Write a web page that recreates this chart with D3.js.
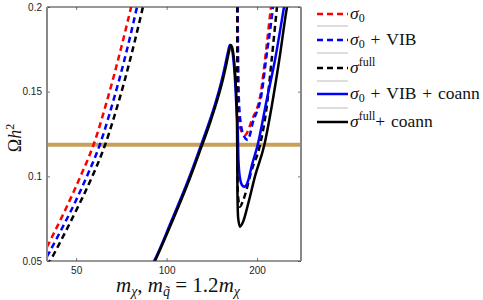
<!DOCTYPE html>
<meta charset="utf-8">
<style>
    body { margin: 0; background: #fff; }
    .tick text { font: 10px "Liberation Sans", Arial, sans-serif; fill: #222; }
    .tex { font-family: "Liberation Serif", "DejaVu Serif", serif; fill: #111; }
</style>
<body>
<script src="https://cdn.jsdelivr.net/npm/d3@7"></script>
<script>
// chart values (m_chi in GeV, Omega h^2)
var xTicks = [50, 100, 200];
var yTicks = [0.05, 0.1, 0.15, 0.2];
var omegaObs = 0.1187;

var sig0LeftMass = [40, 46.0, 51.7, 57.1, 64.6, 70.7, 76.2, 79];
var sig0LeftOmega = [0.0583, 0.0801, 0.1, 0.1185, 0.15, 0.1764, 0.2, 0.212];
var sig0RightMass = [171.8, 173.4, 176.8, 182.3, 192.3, 206.1, 212.5, 222.5, 226];
var sig0RightOmega = [0.23, 0.1344, 0.1274, 0.1244, 0.1333, 0.15, 0.1687, 0.2, 0.21];

var vibLeftMass = [40, 48.2, 54.3, 59.9, 67.8, 74.2, 79.7, 82.5];
var vibLeftOmega = [0.0525, 0.0801, 0.1, 0.1185, 0.15, 0.1764, 0.2, 0.212];
var vibRightMass = [171.8, 173.2, 174.0, 176.8, 180.9, 186.1, 193.8, 207.6, 214.1, 225.9, 229];
var vibRightOmega = [0.23, 0.16, 0.1451, 0.1303, 0.1238, 0.1215, 0.1321, 0.15, 0.1687, 0.2, 0.21];

var fullLeftMass = [40, 40.9, 50.1, 56.6, 62.4, 70.8, 77.5, 83.4, 86.3];
var fullLeftOmega = [0.0478, 0.05, 0.0801, 0.1, 0.1185, 0.15, 0.1764, 0.2, 0.212];
var fullRightMass = [171.8, 171.9, 172.7, 175.4, 179.9, 191.9, 204.5, 215.3, 223.6, 232.9, 236];
var fullRightOmega = [0.23, 0.1156, 0.089, 0.0821, 0.086, 0.1037, 0.1185, 0.1411, 0.1687, 0.2, 0.21];

var vibCoannMass = [89.5, 90.8, 103.4, 118.7, 128.1, 138.3, 146.0, 151.7, 156.4, 160.0, 162.4, 164.4, 166.9, 169.5, 171.2,
    172.5, 173.4, 175.4, 178.1, 181.3, 184.4, 187.0, 192.3, 200.9, 215.3, 229.4, 245.8, 249];
var vibCoannOmega = [0.048, 0.05, 0.073, 0.099, 0.115, 0.1315, 0.1445, 0.1551, 0.1652, 0.1734, 0.1776, 0.1764, 0.1687, 0.1522, 0.1362,
    0.1274, 0.1096, 0.0990, 0.0949, 0.0939, 0.0949, 0.0978, 0.1067, 0.1185, 0.1451, 0.1687, 0.2, 0.206];

var fullCoannMass = [90.4, 91.5, 104.2, 119.6, 129.1, 139.4, 147.1, 152.9, 157.6, 161.2, 163.4, 165.0, 167.6, 170.1, 171.4,
    171.8, 172.1, 173.0, 175.4, 179.5, 187.0, 196.8, 211.4, 223.6, 237.0, 251.5, 255];
var fullCoannOmega = [0.048, 0.05, 0.073, 0.099, 0.115, 0.1315, 0.1445, 0.1551, 0.1652, 0.1734, 0.1776, 0.1764, 0.1687, 0.1522, 0.1362,
    0.1156, 0.089, 0.0754, 0.0703, 0.073, 0.0841, 0.1, 0.1185, 0.1411, 0.1687, 0.2, 0.206];

var width = 483, height = 300;
var pLeft = 47, pRight = 301, pTop = 7, pBottom = 261;

var svg = d3.select("body").append("svg")
    .attr("width", width)
    .attr("height", height);

var x = d3.scaleLog().domain([40, 280]).range([pLeft, pRight]);
var y = d3.scaleLinear().domain([0.05, 0.2]).range([pBottom, pTop]);

svg.append("clipPath").attr("id", "plot")
    .append("rect")
    .attr("x", pLeft).attr("y", pTop)
    .attr("width", pRight - pLeft).attr("height", pBottom - pTop);

function pairs(ms, os) {
    return ms.map(function (m, i) { return [m, os[i]]; });
}

var smooth = d3.line()
    .x(function (d) { return x(d[0]); })
    .y(function (d) { return y(d[1]); })
    .curve(d3.curveCatmullRom.alpha(0.5));
var steep = d3.line()
    .x(function (d) { return x(d[0]); })
    .y(function (d) { return y(d[1]); })
    .curve(d3.curveMonotoneX);

var curves = svg.append("g").attr("clip-path", "url(#plot)");

// observed relic density band
curves.append("line")
    .attr("x1", pLeft).attr("x2", pRight)
    .attr("y1", y(omegaObs)).attr("y2", y(omegaObs))
    .attr("stroke", "#c8a05a")
    .attr("stroke-width", 4);

var series = [
    { m: sig0LeftMass, o: sig0LeftOmega, color: "#ff0000", dash: "6,4", gen: smooth },
    { m: sig0RightMass, o: sig0RightOmega, color: "#ff0000", dash: "6,4", gen: steep },
    { m: vibLeftMass, o: vibLeftOmega, color: "#0000ff", dash: "6,4", gen: smooth },
    { m: vibRightMass, o: vibRightOmega, color: "#0000ff", dash: "6,4", gen: steep },
    { m: fullLeftMass, o: fullLeftOmega, color: "#000", dash: "6,4", gen: smooth },
    { m: fullRightMass, o: fullRightOmega, color: "#000", dash: "6,4", gen: steep },
    { m: vibCoannMass, o: vibCoannOmega, color: "#0000ff", dash: null, gen: steep },
    { m: fullCoannMass, o: fullCoannOmega, color: "#000", dash: null, gen: steep }
];

series.forEach(function (s) {
    curves.append("path")
        .datum(pairs(s.m, s.o))
        .attr("d", s.gen)
        .attr("fill", "none")
        .attr("stroke", s.color)
        .attr("stroke-width", 2.5)
        .attr("stroke-dasharray", s.dash);
});

// axes, ticks pointing inward
function styleAxis(g, keepText) {
    g.select(".domain").remove();
    g.selectAll(".tick line").attr("stroke", "#777");
    if (!keepText) g.selectAll(".tick text").remove();
}

svg.append("g").attr("transform", "translate(0," + pBottom + ")")
    .call(d3.axisBottom(x).tickValues(xTicks).tickFormat(d3.format("d")).tickSize(-3).tickPadding(6))
    .call(styleAxis, true);
svg.append("g").attr("transform", "translate(0," + pTop + ")")
    .call(d3.axisTop(x).tickValues(xTicks).tickSize(-3))
    .call(styleAxis, false);
svg.append("g").attr("transform", "translate(" + pLeft + ",0)")
    .call(d3.axisLeft(y).tickValues(yTicks).tickFormat(d3.format("")).tickSize(-3).tickPadding(5))
    .call(styleAxis, true);
svg.append("g").attr("transform", "translate(" + pRight + ",0)")
    .call(d3.axisRight(y).tickValues(yTicks).tickSize(-3))
    .call(styleAxis, false);

svg.append("line").attr("x1", pLeft).attr("x2", pRight).attr("y1", pTop).attr("y2", pTop)
    .attr("stroke", "#333").attr("stroke-width", 1);
svg.append("line").attr("x1", pLeft).attr("x2", pRight).attr("y1", pBottom).attr("y2", pBottom)
    .attr("stroke", "#333").attr("stroke-width", 1);
svg.append("line").attr("x1", pLeft).attr("x2", pLeft).attr("y1", pTop).attr("y2", pBottom)
    .attr("stroke", "#888").attr("stroke-width", 2);
svg.append("line").attr("x1", pRight).attr("x2", pRight).attr("y1", pTop).attr("y2", pBottom)
    .attr("stroke", "#888").attr("stroke-width", 2);

// axis labels
var xl = svg.append("text").attr("class", "tex")
    .attr("x", 178).attr("y", 292)
    .attr("text-anchor", "middle")
    .style("font-size", "21px");
xl.append("tspan").style("font-style", "italic").text("m");
xl.append("tspan").attr("dy", 4).style("font-size", "14px").style("font-style", "italic").text("χ");
xl.append("tspan").attr("dy", -4).text(", ");
xl.append("tspan").style("font-style", "italic").text("m");
xl.append("tspan").attr("dy", 4).style("font-size", "14px").style("font-style", "italic").text("q̃");
xl.append("tspan").attr("dy", -4).text(" = 1.2");
xl.append("tspan").style("font-style", "italic").text("m");
xl.append("tspan").attr("dy", 4).style("font-size", "14px").style("font-style", "italic").text("χ");

var yl = svg.append("text").attr("class", "tex")
    .attr("transform", "translate(21,138) rotate(-90)")
    .attr("text-anchor", "middle")
    .style("font-size", "18px");
yl.append("tspan").text("Ω");
yl.append("tspan").style("font-style", "italic").text("h");
yl.append("tspan").attr("dy", -7).style("font-size", "12px").text("2");

// legend
var legendNames = [
    [["σ", "i"], ["0", "sub"]],
    [["σ", "i"], ["0", "sub"], [" + VIB", "n"]],
    [["σ", "i"], ["full", "sup"]],
    [["σ", "i"], ["0", "sub"], [" + VIB + coann", "n"]],
    [["σ", "i"], ["full", "sup"], ["+ coann", "n"]]
];
var legendColors = ["#ff0000", "#0000ff", "#000", "#0000ff", "#000"];
var legendDash = ["6,4", "6,4", "6,4", null, null];
var legendY = [14, 40, 68, 94, 122];
var sepY = [26, 53, 81, 108];

sepY.forEach(function (sy) {
    svg.append("line").attr("x1", 317).attr("x2", 348).attr("y1", sy).attr("y2", sy)
        .attr("stroke", "#bbb").attr("stroke-width", 1);
});

legendNames.forEach(function (parts, i) {
    svg.append("line").attr("x1", 317).attr("x2", 348)
        .attr("y1", legendY[i]).attr("y2", legendY[i])
        .attr("stroke", legendColors[i]).attr("stroke-width", 2.5)
        .attr("stroke-dasharray", legendDash[i]);
    var t = svg.append("text").attr("class", "tex")
        .attr("x", 350).attr("y", legendY[i] + 5)
        .style("font-size", "17.5px")
        .style("word-spacing", "1.5px");
    var shift = 0;
    parts.forEach(function (p) {
        var ts = t.append("tspan").text(p[0]);
        if (p[1] === "i") ts.style("font-style", "italic");
        if (p[1] === "sub") { ts.attr("dy", 3 - shift).style("font-size", "12px"); shift = 3; }
        else if (p[1] === "sup") { ts.attr("dy", -7 - shift).style("font-size", "12px"); shift = -7; }
        else if (shift !== 0) { ts.attr("dy", -shift); shift = 0; }
    });
});
</script>
</body>
